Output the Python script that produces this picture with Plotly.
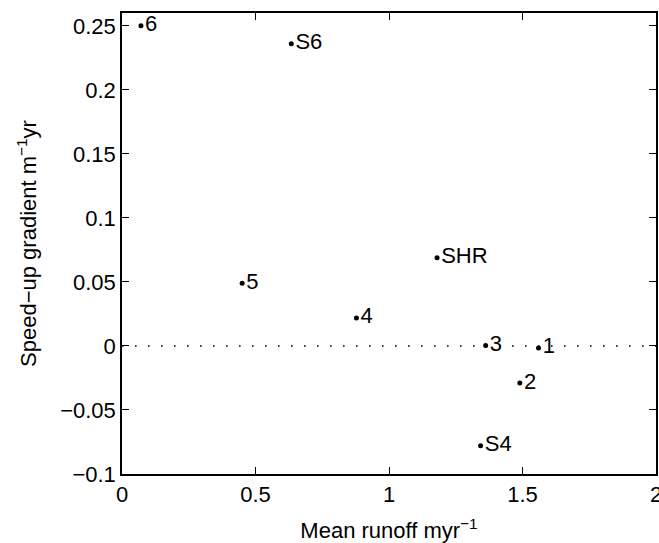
import plotly.graph_objects as go

labels = ["6", "S6", "SHR", "5", "4", "3", "1", "2", "S4"]
runoff = [0.071, 0.634, 1.18, 0.45, 0.878, 1.362, 1.56, 1.49, 1.343]
gradient = [0.250, 0.236, 0.0688, 0.049, 0.0219, 0.0003, -0.0016, -0.029, -0.078]

x_ticks = [0, 0.5, 1, 1.5, 2]
x_tick_text = ["0", "0.5", "1", "1.5", "2"]
y_ticks = [-0.1, -0.05, 0, 0.05, 0.1, 0.15, 0.2, 0.25]
y_tick_text = ["−0.1", "−0.05", "0", "0.05", "0.1", "0.15", "0.2", "0.25"]

font = "Liberation Sans, Arial, Helvetica, sans-serif"
fs = 22

fig = go.Figure()
fig.add_trace(go.Scatter(
    x=[0, 2], y=[0, 0], mode="lines",
    line=dict(color="black", width=1.6, dash="1.6px,11.4px"),
    hoverinfo="skip", showlegend=False,
))
fig.add_trace(go.Scatter(
    x=runoff, y=gradient, mode="markers+text",
    text=labels, textposition="middle right",
    textfont=dict(family=font, size=fs, color="black"),
    marker=dict(color="black", size=5),
    cliponaxis=False,
    showlegend=False,
))

axis_common = dict(
    showgrid=False, zeroline=False, showline=True, linecolor="black",
    linewidth=1.5, mirror="allticks", ticks="inside", ticklen=7,
    tickcolor="black", tickwidth=1.2, ticklabeloverflow="allow",
    automargin=False,
    tickfont=dict(family=font, size=fs, color="black"),
)

fig.update_layout(
    width=659, height=543,
    margin=dict(l=122, r=3, t=13, b=69),
    paper_bgcolor="white", plot_bgcolor="white",
    xaxis=dict(range=[0, 2], tickvals=x_ticks, ticktext=x_tick_text,
               title=dict(text="Mean runoff myr<sup>−1</sup>",
                          font=dict(family=font, size=fs, color="black"), standoff=20),
               **axis_common),
    yaxis=dict(range=[-0.1, 0.26], tickvals=y_ticks, ticktext=y_tick_text,
               title=dict(text="Speed−up gradient m<sup>−1</sup>yr",
                          font=dict(family=font, size=fs, color="black"), standoff=17),
               **axis_common),
)

fig.write_html(
    "out.html",
    config={"displayModeBar": False},
    post_script=(
        "document.body.style.margin='0';"
        "document.body.style.overflow='hidden';"
        "document.documentElement.style.overflow='hidden';"
    ),
)
